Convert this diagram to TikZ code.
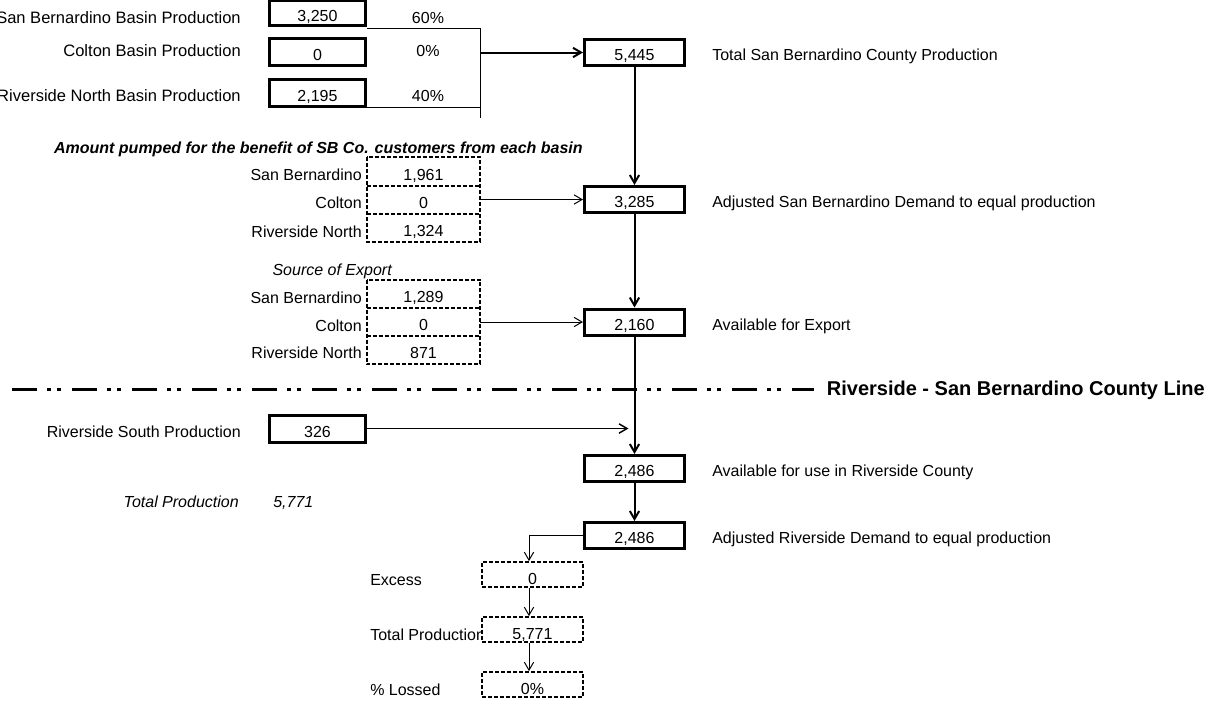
\documentclass[tikz,border=0pt]{standalone}
\usepackage{fontspec}
\setmainfont{Liberation Sans}
\usetikzlibrary{arrows.meta,calc}
\begin{document}
\begin{tikzpicture}[x=0.75pt,y=-0.75pt,
  every node/.style={font=\fontsize{12}{14}\selectfont, inner sep=0pt},
  tbox/.style={draw, line width=2.25pt, minimum width=75pt, minimum height=19.5pt, text height=12.5pt, text depth=0pt},
  lbox/.style={tbox, minimum width=72pt, minimum height=20.25pt, text height=13.1pt},
  dcell/.style={minimum width=84.75pt, minimum height=21pt, text height=13.1pt, text depth=0pt},
  dashbox/.style={line width=1.3pt, dash pattern=on 3pt off 1.5pt},
  bcell/.style={draw, dashbox, fill=white, minimum width=75.75pt, minimum height=18.75pt, text height=15pt, text depth=0pt},
  lab/.style={anchor=base east},
  toplab/.style={anchor=base east, font=\fontsize{12.4}{14}\selectfont},
  rlab/.style={anchor=base west},
  thinline/.style={line width=0.75pt},
  thickarr/.style={line width=1.5pt, -{Straight Barb[length=6pt,width=7pt]}},
  medarr/.style={line width=1.1pt, -{Straight Barb[length=6pt,width=7pt]}},
  thinarr/.style={line width=0.75pt, -{Straight Barb[length=6pt,width=7pt]}},
  dashline/.style={line width=2.25pt, dash pattern=on 18.75pt off 7.5pt on 3pt off 4.5pt on 3pt off 8.25pt},
]
\useasboundingbox (0,0) rectangle (1212,704);

% top production rows
\node[toplab] (l1) at (241,23.3) {San Bernardino Basin Production};
\node[toplab] (l2) at (241,56.8) {Colton Basin Production};
\node[toplab] (l3) at (241,101.8) {Riverside North Basin Production};
\node[lbox, minimum height=18.4pt] (p1) at (317.5,13) {3,250};
\node[lbox] (p2) at (317.5,51.5) {0};
\node[lbox] (p3) at (317.5,92.5) {2,195};
\node[anchor=base] (q1) at (428,23.3) {60\%};
\node[anchor=base] (q2) at (428,56.8) {0\%};
\node[anchor=base] (q3) at (428,101.8) {40\%};

% bracket
\coordinate (k1) at (480,28);
\coordinate (kb) at (480,118);
\draw[thinline] (p1.south east |- k1) -- (k1) -- (kb);
\draw[thinline] (p3.south east) -- (p3.south east -| k1);

% column boxes
\node[tbox] (n1) at (634.5,52.5) {5,445};
\node[tbox] (n2) at (634.5,199.5) {3,285};
\node[tbox] (n3) at (634.5,322) {2,160};
\node[tbox] (n4) at (634.5,468.5) {2,486};
\node[tbox] (n5) at (634.5,535.5) {2,486};

\node[rlab] (t1) at (712,60) {Total San Bernardino County Production};
\node[rlab] (t2) at (712,207.5) {Adjusted San Bernardino Demand to equal production};
\node[rlab] (t3) at (712,330) {Available for Export};
\node[rlab] (t4) at (712,476.5) {Available for use in Riverside County};
\node[rlab] (t5) at (712,543.5) {Adjusted Riverside Demand to equal production};

\draw[thickarr] (k1 |- n1) -- (n1.west);
\draw[thickarr] (n1.south) -- (n2.north);
\draw[thickarr] (n2.south) -- (n3.north);

% amount pumped group
\node[lab, font=\fontsize{12}{14}\selectfont\bfseries\itshape] (h1) at (583,153.8) {Amount pumped for the benefit of SB Co. customers from each basin};
\node[lab] (a1) at (362,180.8) {San Bernardino};
\node[lab] (a2) at (362,208.8) {Colton};
\node[lab] (a3) at (362,237.3) {Riverside North};
\node[dcell] (g1a) at (423.5,171.5) {1,961};
\node[dcell] (g1b) at (423.5,199.5) {0};
\node[dcell] (g1c) at (423.5,227.5) {1,324};
\draw[dashbox] (g1a.north west) rectangle (g1c.south east);
\draw[dashbox] (g1a.south west) -- (g1a.south east);
\draw[dashbox] (g1b.south west) -- (g1b.south east);
\draw[thinarr] (g1b.east) -- (n2.west);

% source of export group
\node[lab, font=\fontsize{12}{14}\selectfont\itshape] (h2) at (392,275.8) {Source of Export};
\node[lab] (b1) at (362,303.3) {San Bernardino};
\node[lab] (b2) at (362,331) {Colton};
\node[lab] (b3) at (362,358.8) {Riverside North};
\node[dcell] (g2a) at (423.5,294) {1,289};
\node[dcell] (g2b) at (423.5,322) {0};
\node[dcell] (g2c) at (423.5,350) {871};
\draw[dashbox] (g2a.north west) rectangle (g2c.south east);
\draw[dashbox] (g2a.south west) -- (g2a.south east);
\draw[dashbox] (g2b.south west) -- (g2b.south east);
\draw[thinarr] (g2b.east) -- (n3.west);

% county line
\coordinate (dl0) at (12,389);
\coordinate (dl1) at (814,389);
\draw[dashline] (dl0) -- (dl1);
\node[lab, font=\fontsize{15}{18}\selectfont\bfseries] (cl) at (1205,395.5) {Riverside - San Bernardino County Line};

\draw[thickarr] (n3.south) -- (n4.north);

% riverside south
\node[lab] (rs) at (241,437.8) {Riverside South Production};
\node[lbox] (r1) at (317.5,428.5) {326};
\draw[medarr] (r1.east) -- ($(r1.east -| n4.north)+(-6,0)$);

\node[lab, font=\fontsize{12}{14}\selectfont\itshape] (tp) at (239,507) {Total Production};
\node[rlab, font=\fontsize{12}{14}\selectfont\itshape] (tv) at (273,507) {5,771};

\draw[thickarr] (n4.south) -- (n5.north);

% bottom cells
\node[rlab] (x1) at (370,585.8) {Excess};
\node[rlab] (x2) at (370,640.8) {Total Production};
\node[rlab] (x3) at (370,695.8) {\% Lossed};
\node[bcell] (e1) at (532.5,574.5) {0};
\node[bcell] (e2) at (532.5,629.5) {5,771};
\node[bcell] (e3) at (532.5,684.5) {0\%};
\draw[thinarr] (n5.west) -| ($(e1.north)+(-3.5,0)$);
\draw[thinarr] ($(e1.south)+(-3.5,0)$) -- ($(e2.north)+(-3.5,0)$);
\draw[thinarr] ($(e2.south)+(-3.5,0)$) -- ($(e3.north)+(-3.5,0)$);
\end{tikzpicture}
\end{document}
